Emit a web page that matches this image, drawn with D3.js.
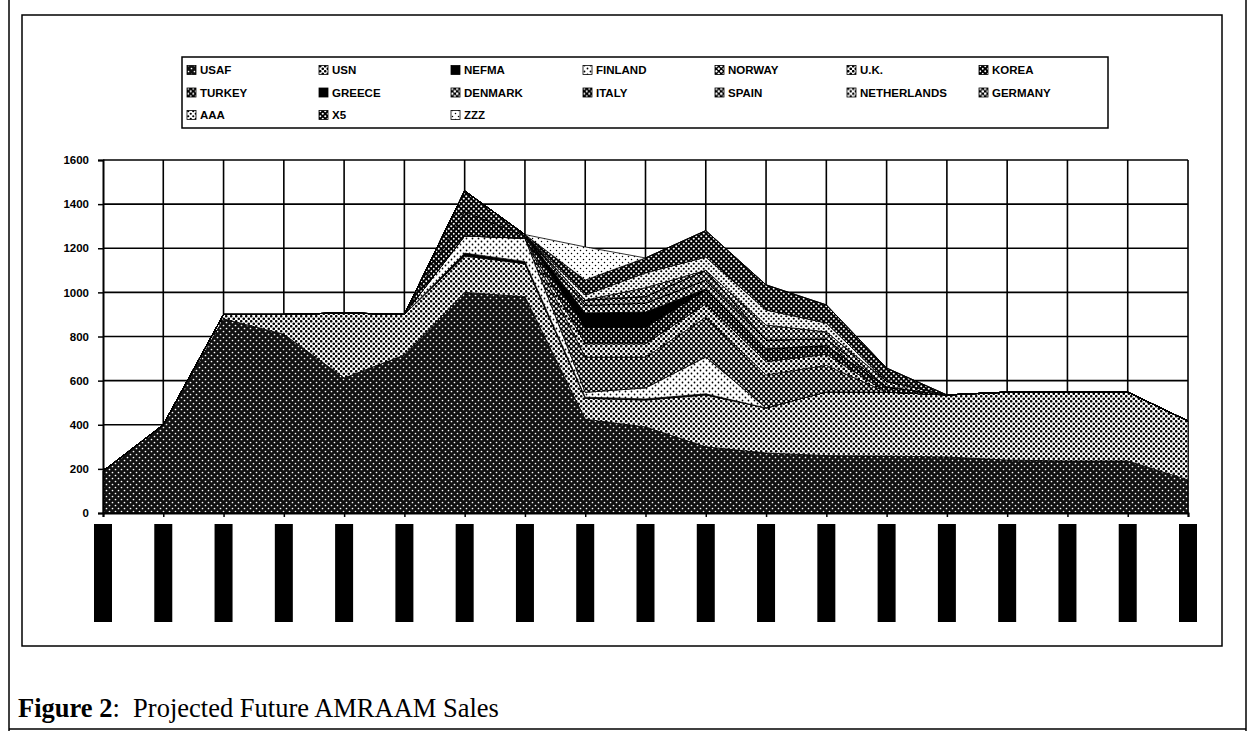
<!DOCTYPE html>
<html>
<head>
<meta charset="UTF-8">
<script src="https://d3js.org/d3.v7.min.js"></script>
<style>
  body { margin: 0; background: #fff; }
  svg { display: block; }
  .lab { font-family: "Liberation Sans", Arial, sans-serif; font-weight: bold; font-size: 11.5px; fill: #000; }
  .cap { font-family: "Liberation Serif", "Times New Roman", serif; font-size: 26.5px; fill: #000; white-space: pre; }
</style>
</head>
<body>
<svg id="chart"></svg>
<script>
// years are blacked out in the original, only the positions are kept
const years = ["1996","1997","1998","1999","2000","2001","2002","2003","2004","2005",
               "2006","2007","2008","2009","2010","2011","2012","2013","2014"];
const yTicks = [0, 200, 400, 600, 800, 1000, 1200, 1400, 1600];

const names = ["USAF","USN","NEFMA","FINLAND","NORWAY","U.K.","KOREA","TURKEY","GREECE",
               "DENMARK","ITALY","SPAIN","NETHERLANDS","GERMANY","AAA","X5","ZZZ"];

const usaf        = [190, 400, 880, 810, 612, 716, 1000, 980, 425, 390, 300, 272, 260, 258, 254, 240, 236, 236, 150];
const usn         = [  0,   0,  20,  90, 295, 184,  165, 150,  95, 122, 235, 204, 289, 290, 281, 308, 312, 312, 267];
const nefma       = [  0,   0,   0,   0,   0,   0,   13,  10,   5,   5,   5,   0,   0,   0,   0,   0,   0,   0,   0];
const finland     = [  0,   0,   0,   0,   0,   0,   78, 105,  22,  50, 167,   0,   0,   0,   0,   0,   0,   0,   0];
const norway      = [  0,   0,   0,   0,   0,   0,    0,   0, 160, 140, 180, 150, 120,   0,   0,   0,   0,   0,   0];
const uk          = [  0,   0,   0,   0,   0,   0,    0,   0,  60,  60,  60,  60,  50,   0,   0,   0,   0,   0,   0];
const korea       = [  0,   0,   0,   0,   0,   0,  110,  10,  76,  76,  64,  58,  40,  24,   0,   0,   0,   0,   0];
const turkey      = [  0,   0,   0,   0,   0,   0,   94,   7,   0,   0,   0,   0,   0,   0,   0,   0,   0,   0,   0];
const greece      = [  0,   0,   0,   0,   0,   0,    0,   0,  63,  68,   4,   0,   0,   0,   0,   0,   0,   0,   0];
const denmark     = [  0,   0,   0,   0,   0,   0,    0,   0,  35,  40,  40,  40,  30,   0,   0,   0,   0,   0,   0];
const italy       = [  0,   0,   0,   0,   0,   0,    0,   0,   0,   0,   0,   0,   0,   0,   0,   0,   0,   0,   0];
const spain       = [  0,   0,   0,   0,   0,   0,    0,   0,  24,  30,  45,   0,   0,   0,   0,   0,   0,   0,   0];
const netherlands = [  0,   0,   0,   0,   0,   0,    0,   0,   0,   0,   0,   0,   0,   0,   0,   0,   0,   0,   0];
const germany     = [  0,   0,   0,   0,   0,   0,    0,   0,   0,  40,   0,  68,  32,  25,   0,   0,   0,   0,   0];
const aaa         = [  0,   0,   0,   0,   0,   0,    0,   0,  23,  67,  60,  68,  40,   0,   0,   0,   0,   0,   0];
const x5          = [  0,   0,   0,   0,   0,   0,    0,   0,  68,  68, 120, 114,  82,  60,   0,   0,   0,   0,   0];
const zzz         = [  0,   0,   0,   0,   0,   0,    0,   0, 150,   0,   0,   0,   0,   0,   0,   0,   0,   0,   0];

const values = [usaf, usn, nefma, finland, norway, uk, korea, turkey, greece,
                denmark, italy, spain, netherlands, germany, aaa, x5, zzz];

// halftone look of the print: background, dot colour, cell size, dot radius
const fills = {
  "USAF":        ["#111", "#fff", 6, 0.85],
  "USN":         ["#fff", "#000", 5, 1.3],
  "NEFMA":       ["#000", "#000", 5, 0],
  "FINLAND":     ["#fff", "#000", 6, 0.9],
  "NORWAY":      ["#000", "#fff", 5, 1.2],
  "U.K.":        ["#fff", "#000", 5, 1.35],
  "KOREA":       ["#000", "#fff", 5, 0.95],
  "TURKEY":      ["#000", "#fff", 5, 1.05],
  "GREECE":      ["#000", "#000", 5, 0],
  "DENMARK":     ["#000", "#fff", 5, 1.3],
  "ITALY":       ["#000", "#fff", 5, 1.1],
  "SPAIN":       ["#000", "#fff", 5, 1.25],
  "NETHERLANDS": ["#fff", "#000", 5, 1.2],
  "GERMANY":     ["#000", "#fff", 5, 1.35],
  "AAA":         ["#fff", "#000", 5, 1.1],
  "X5":          ["#000", "#fff", 5, 1.05],
  "ZZZ":         ["#fff", "#000", 6, 0.75]
};

const W = 1248, H = 731;
const svg = d3.select("#chart").attr("width", W).attr("height", H);

// patterns
const defs = svg.append("defs");
names.forEach((n, i) => {
  const [bg, fg, s, r] = fills[n];
  const p = defs.append("pattern").attr("id", "pat" + i)
    .attr("patternUnits", "userSpaceOnUse").attr("width", s).attr("height", s);
  p.append("rect").attr("width", s).attr("height", s).attr("fill", bg);
  if (r > 0) {
    p.append("circle").attr("cx", s / 4).attr("cy", s / 4).attr("r", r).attr("fill", fg);
    p.append("circle").attr("cx", 3 * s / 4).attr("cy", 3 * s / 4).attr("r", r).attr("fill", fg);
  }
});

// page and chart frames
svg.append("line").attr("x1", 9).attr("x2", 9).attr("y1", 0).attr("y2", H).attr("stroke", "#000").attr("stroke-width", 1.5);
svg.append("line").attr("x1", 1246).attr("x2", 1246).attr("y1", 0).attr("y2", H).attr("stroke", "#000").attr("stroke-width", 1.5);
svg.append("line").attr("x1", 9).attr("x2", 1246).attr("y1", 729).attr("y2", 729).attr("stroke", "#000").attr("stroke-width", 1.5);
svg.append("rect").attr("x", 22).attr("y", 15).attr("width", 1200).attr("height", 631)
  .attr("fill", "none").attr("stroke", "#000").attr("stroke-width", 1.5);

const x = d3.scalePoint().domain(years).range([103, 1188]);
const y = d3.scaleLinear().domain([0, 1600]).range([513, 160]);

// grid
const grid = svg.append("g").attr("stroke", "#000").attr("stroke-width", 1.6);
grid.selectAll(".h").data(yTicks.slice(1)).join("line")
  .attr("x1", 103).attr("x2", 1188).attr("y1", d => y(d)).attr("y2", d => y(d));
grid.selectAll(".v").data(years.slice(1)).join("line")
  .attr("x1", d => x(d)).attr("x2", d => x(d)).attr("y1", y(1600)).attr("y2", y(0));

// stacked areas
const table = years.map((yr, j) => {
  const row = { year: yr };
  names.forEach((n, i) => row[n] = values[i][j]);
  return row;
});
const stack = d3.stack().keys(names)(table);
const area = d3.area()
  .x(d => x(d.data.year))
  .y0(d => y(d[0]))
  .y1(d => y(d[1]));

svg.append("g").selectAll("path").data(stack).join("path")
  .attr("d", area)
  .attr("fill", (d, i) => "url(#pat" + i + ")")
  .attr("stroke", "#000")
  .attr("stroke-width", 0.8)
  .attr("stroke-linejoin", "round");

// axes
const yAxis = svg.append("g").attr("transform", "translate(103,0)")
  .call(d3.axisLeft(y).tickValues(yTicks).tickFormat(d3.format("d")).tickSize(5).tickPadding(9));
const xAxis = svg.append("g").attr("transform", "translate(0,513)")
  .call(d3.axisBottom(x).tickSize(4).tickFormat(""));
[yAxis, xAxis].forEach(a => {
  a.select(".domain").attr("stroke", "#000").attr("stroke-width", 2);
  a.selectAll(".tick line").attr("stroke", "#000").attr("stroke-width", 1.5);
});
yAxis.selectAll("text").attr("class", "lab").attr("font-size", null).attr("font-family", null);

// blacked-out category labels
svg.append("g").selectAll("rect").data(years).join("rect")
  .attr("x", d => x(d) - 9).attr("y", 524)
  .attr("width", 18).attr("height", 98)
  .attr("fill", "#000");

// legend
svg.append("rect").attr("x", 182).attr("y", 57).attr("width", 926).attr("height", 71)
  .attr("fill", "#fff").attr("stroke", "#000").attr("stroke-width", 1.5);
const leg = svg.append("g").selectAll("g").data(names).join("g")
  .attr("transform", (d, i) => `translate(${187 + 132 * (i % 7)},${70 + 22.5 * Math.floor(i / 7)})`);
leg.append("rect").attr("x", 0).attr("y", -4.5).attr("width", 9).attr("height", 9)
  .attr("fill", (d, i) => "url(#pat" + i + ")").attr("stroke", "#000").attr("stroke-width", 0.8);
leg.append("text").attr("class", "lab").attr("x", 13).attr("y", 4).text(d => d);

// caption
const cap = svg.append("text").attr("class", "cap").attr("x", 18).attr("y", 717);
cap.append("tspan").attr("font-weight", "bold").text("Figure 2");
cap.append("tspan").text(":  Projected Future AMRAAM Sales");
</script>
</body>
</html>
